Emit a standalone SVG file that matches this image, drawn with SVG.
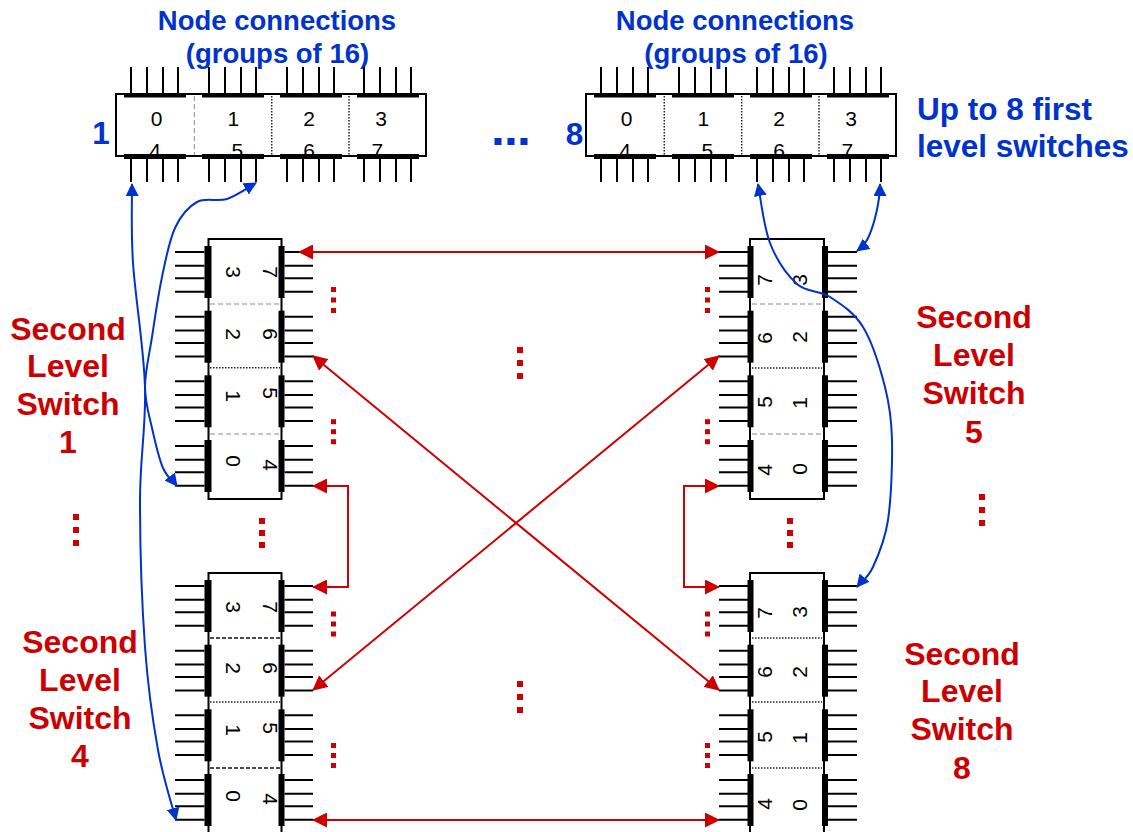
<svg xmlns="http://www.w3.org/2000/svg" xmlns:xlink="http://www.w3.org/1999/xlink" width="1133" height="832" viewBox="0 0 1133 832">
<style>
text{font-family:"Liberation Sans",Arial,Helvetica,sans-serif}
.bt{font-weight:bold;fill:#0033CC;font-size:27.5px;text-anchor:middle}
.bs{font-weight:bold;fill:#0033CC;font-size:31.5px}
.rt{font-weight:bold;fill:#CC0000;font-size:32px;text-anchor:middle}
.dg{font-size:21px;fill:#000;text-anchor:middle}
.frame{fill:#fff;stroke:#000;stroke-width:2}
.pin{stroke:#000;stroke-width:2;fill:none}
.bar{fill:#000}
.dvg{stroke:#888;stroke-width:1;stroke-dasharray:5 3;fill:none}
.dvd{stroke:#222;stroke-width:1.5;stroke-dasharray:1.5 1.5;fill:none}
.dvk{stroke:#111;stroke-width:1.5;stroke-dasharray:4 2;fill:none}
.rl{stroke:#CC0000;stroke-width:2;fill:none;marker-start:url(#ar);marker-end:url(#ar)}
.bl{stroke:#0033CC;stroke-width:2;fill:none;marker-start:url(#ab);marker-end:url(#ab)}
.rd{fill:#CC0000}
.bd{fill:#0033CC}
</style>
<defs>
<marker id="ar" viewBox="0 0 15 15" refX="14" refY="7.5" markerWidth="15" markerHeight="15" markerUnits="userSpaceOnUse" orient="auto-start-reverse"><path d="M0,0L15,7.5L0,15z" fill="#CC0000"/></marker>
<marker id="ab" viewBox="0 0 13 13" refX="12" refY="6.5" markerWidth="13" markerHeight="13" markerUnits="userSpaceOnUse" orient="auto-start-reverse"><path d="M0,0L13,6.5L0,13z" fill="#0033CC"/></marker>
<g id="hsw-frame">
<rect class="frame" x="0" y="0" width="310" height="62"/>
<path class="pin" d="M15,-27V0M31,-27V0M47,-27V0M62,-27V0M93,-27V0M109,-27V0M125,-27V0M140,-27V0M171,-27V0M187,-27V0M203,-27V0M218,-27V0M248,-27V0M264,-27V0M280,-27V0M295,-27V0M15,62V88M31,62V88M47,62V88M62,62V88M93,62V88M109,62V88M125,62V88M140,62V88M171,62V88M187,62V88M203,62V88M218,62V88M248,62V88M264,62V88M280,62V88M295,62V88"/>
</g>
<g id="hsw-bars">
<rect class="bar" x="8" y="-1" width="62" height="4.5"/><rect class="bar" x="86" y="-1" width="62" height="4.5"/><rect class="bar" x="164" y="-1" width="62" height="4.5"/><rect class="bar" x="241" y="-1" width="62" height="4.5"/>
<rect class="bar" x="8" y="60" width="62" height="5"/><rect class="bar" x="86" y="60" width="62" height="5"/><rect class="bar" x="164" y="60" width="62" height="5"/><rect class="bar" x="241" y="60" width="62" height="5"/>
</g>
<g id="vsL-frame">
<rect class="frame" x="0" y="0" width="73" height="260"/>
<path class="pin" d="M-33.5,13H-4M76,13H104.5M-33.5,26.7H-4M76,26.7H104.5M-33.5,39.3H-4M76,39.3H104.5M-33.5,52.7H-4M76,52.7H104.5M-33.5,77.7H-4M76,77.7H104.5M-33.5,91.4H-4M76,91.4H104.5M-33.5,104H-4M76,104H104.5M-33.5,117.4H-4M76,117.4H104.5M-33.5,142.3H-4M76,142.3H104.5M-33.5,156H-4M76,156H104.5M-33.5,168.6H-4M76,168.6H104.5M-33.5,182H-4M76,182H104.5M-33.5,207H-4M76,207H104.5M-33.5,220.7H-4M76,220.7H104.5M-33.5,233.3H-4M76,233.3H104.5M-33.5,246.7H-4M76,246.7H104.5"/>
</g>
<g id="vsL-bars">
<rect class="bar" x="-4" y="7" width="7" height="52"/><rect class="bar" x="-4" y="71.7" width="7" height="52"/><rect class="bar" x="-4" y="136.3" width="7" height="52"/><rect class="bar" x="-4" y="201" width="7" height="52"/>
<rect class="bar" x="70" y="7" width="6" height="52"/><rect class="bar" x="70" y="71.7" width="6" height="52"/><rect class="bar" x="70" y="136.3" width="6" height="52"/><rect class="bar" x="70" y="201" width="6" height="52"/>
</g>
<g id="vsR-frame">
<rect class="frame" x="0" y="0" width="74" height="260"/>
<path class="pin" d="M-31,13H-2M78,13H107M-31,26.7H-2M78,26.7H107M-31,39.3H-2M78,39.3H107M-31,52.7H-2M78,52.7H107M-31,77.7H-2M78,77.7H107M-31,91.4H-2M78,91.4H107M-31,104H-2M78,104H107M-31,117.4H-2M78,117.4H107M-31,142.3H-2M78,142.3H107M-31,156H-2M78,156H107M-31,168.6H-2M78,168.6H107M-31,182H-2M78,182H107M-31,207H-2M78,207H107M-31,220.7H-2M78,220.7H107M-31,233.3H-2M78,233.3H107M-31,246.7H-2M78,246.7H107"/>
</g>
<g id="vsR-bars">
<rect class="bar" x="-2.5" y="7" width="6" height="52"/><rect class="bar" x="-2.5" y="71.7" width="6" height="52"/><rect class="bar" x="-2.5" y="136.3" width="6" height="52"/><rect class="bar" x="-2.5" y="201" width="6" height="52"/>
<rect class="bar" x="72" y="7" width="6" height="52"/><rect class="bar" x="72" y="71.7" width="6" height="52"/><rect class="bar" x="72" y="136.3" width="6" height="52"/><rect class="bar" x="72" y="201" width="6" height="52"/>
</g>
</defs>
<rect x="0" y="0" width="1133" height="832" fill="#fff"/>

<g id="labels">
<text class="bt" x="277" y="30">Node connections</text>
<text class="bt" x="277.5" y="63">(groups of 16)</text>
<text class="bt" x="735" y="30">Node connections</text>
<text class="bt" x="736" y="63">(groups of 16)</text>
<text class="bs" x="917" y="120">Up to 8 first</text>
<text class="bs" x="917" y="157">level switches</text>
<rect class="bd" x="494.5" y="138" width="7" height="7"/><rect class="bd" x="507.5" y="138" width="7" height="7"/><rect class="bd" x="520.5" y="138" width="7" height="7"/>
<text class="rt" x="68" y="340">Second</text><text class="rt" x="68" y="377">Level</text><text class="rt" x="68" y="415">Switch</text><text class="rt" x="68" y="453">1</text>
<text class="rt" x="80" y="653">Second</text><text class="rt" x="80" y="691">Level</text><text class="rt" x="80" y="729">Switch</text><text class="rt" x="80" y="767">4</text>
<text class="rt" x="974" y="328">Second</text><text class="rt" x="974" y="366">Level</text><text class="rt" x="974" y="404">Switch</text><text class="rt" x="974" y="443">5</text>
<text class="rt" x="962" y="665">Second</text><text class="rt" x="962" y="702">Level</text><text class="rt" x="962" y="740">Switch</text><text class="rt" x="962" y="779">8</text>
</g>

<g id="ellipses">
<rect class="rd" x="331" y="287" width="5" height="5"/><rect class="rd" x="331" y="297.5" width="5" height="5"/><rect class="rd" x="331" y="308" width="5" height="5"/>
<rect class="rd" x="331" y="419.2" width="5" height="5"/><rect class="rd" x="331" y="429.2" width="5" height="5"/><rect class="rd" x="331" y="439.2" width="5" height="5"/>
<rect class="rd" x="331" y="611.5" width="5" height="5"/><rect class="rd" x="331" y="621.5" width="5" height="5"/><rect class="rd" x="331" y="631.5" width="5" height="5"/>
<rect class="rd" x="331" y="743" width="5" height="5"/><rect class="rd" x="331" y="753" width="5" height="5"/><rect class="rd" x="331" y="763" width="5" height="5"/>
<rect class="rd" x="705" y="287" width="5" height="5"/><rect class="rd" x="705" y="297.5" width="5" height="5"/><rect class="rd" x="705" y="308" width="5" height="5"/>
<rect class="rd" x="705" y="419.2" width="5" height="5"/><rect class="rd" x="705" y="429.2" width="5" height="5"/><rect class="rd" x="705" y="439.2" width="5" height="5"/>
<rect class="rd" x="705" y="611.5" width="5" height="5"/><rect class="rd" x="705" y="621.5" width="5" height="5"/><rect class="rd" x="705" y="631.5" width="5" height="5"/>
<rect class="rd" x="705" y="743" width="5" height="5"/><rect class="rd" x="705" y="753" width="5" height="5"/><rect class="rd" x="705" y="763" width="5" height="5"/>
<rect class="rd" x="517" y="347" width="6" height="6"/><rect class="rd" x="517" y="360" width="6" height="6"/><rect class="rd" x="517" y="373" width="6" height="6"/>
<rect class="rd" x="517" y="681" width="6" height="6"/><rect class="rd" x="517" y="694" width="6" height="6"/><rect class="rd" x="517" y="707" width="6" height="6"/>
<rect class="rd" x="259" y="518" width="6" height="6"/><rect class="rd" x="259" y="530" width="6" height="6"/><rect class="rd" x="259" y="542" width="6" height="6"/>
<rect class="rd" x="787" y="518" width="6" height="6"/><rect class="rd" x="787" y="530" width="6" height="6"/><rect class="rd" x="787" y="542" width="6" height="6"/>
<rect class="rd" x="73" y="514" width="6" height="6"/><rect class="rd" x="73" y="527" width="6" height="6"/><rect class="rd" x="73" y="540" width="6" height="6"/>
<rect class="rd" x="979" y="494" width="6" height="6"/><rect class="rd" x="979" y="507" width="6" height="6"/><rect class="rd" x="979" y="520" width="6" height="6"/>
</g>

<g id="fls1">
<use xlink:href="#hsw-frame" x="116" y="94"/>
<path class="dvg" d="M194.3,96V155"/><path class="dvd" d="M271.7,96V155"/><path class="dvd" d="M349,96V155"/>
<text class="dg" x="156.7" y="125.5">0</text><text class="dg" x="233.3" y="125.5">1</text><text class="dg" x="309" y="125.5">2</text><text class="dg" x="381" y="125.5">3</text>
<text class="dg" x="155" y="158">4</text><text class="dg" x="237.3" y="158">5</text><text class="dg" x="309" y="158">6</text><text class="dg" x="377.3" y="158">7</text>
<use xlink:href="#hsw-bars" x="116" y="94"/>
<text class="bs" x="101" y="143.5" text-anchor="middle" font-size="28">1</text>
</g>

<g id="fls8">
<use xlink:href="#hsw-frame" x="586" y="94"/>
<path class="dvd" d="M664.3,96V155"/><path class="dvd" d="M741.7,96V155"/><path class="dvd" d="M819,96V155"/>
<text class="dg" x="626.7" y="125.5">0</text><text class="dg" x="703.3" y="125.5">1</text><text class="dg" x="779" y="125.5">2</text><text class="dg" x="851" y="125.5">3</text>
<text class="dg" x="625" y="158">4</text><text class="dg" x="707.3" y="158">5</text><text class="dg" x="779" y="158">6</text><text class="dg" x="847.3" y="158">7</text>
<use xlink:href="#hsw-bars" x="586" y="94"/>
<text class="bs" x="574.5" y="145" text-anchor="middle" font-size="28">8</text>
</g>

<g id="sls1">
<use xlink:href="#vsL-frame" x="208.5" y="239"/>
<path class="dvg" d="M210,304H280"/><path class="dvd" d="M210,367.7H280"/><path class="dvg" d="M210,434H280"/>
<text class="dg" transform="translate(225.5,272) rotate(90)">3</text><text class="dg" transform="translate(225.5,334) rotate(90)">2</text><text class="dg" transform="translate(225.5,396) rotate(90)">1</text><text class="dg" transform="translate(225.5,461) rotate(90)">0</text>
<text class="dg" transform="translate(262.5,272) rotate(90)">7</text><text class="dg" transform="translate(262.5,334) rotate(90)">6</text><text class="dg" transform="translate(262.5,393) rotate(90)">5</text><text class="dg" transform="translate(262.5,465) rotate(90)">4</text>
<use xlink:href="#vsL-bars" x="208.5" y="239"/>
</g>

<g id="sls4">
<use xlink:href="#vsL-frame" x="208.5" y="573"/>
<path class="dvk" d="M210,638H280"/><path class="dvd" d="M210,702H280"/><path class="dvk" d="M210,768H280"/>
<text class="dg" transform="translate(225.5,607) rotate(90)">3</text><text class="dg" transform="translate(225.5,668) rotate(90)">2</text><text class="dg" transform="translate(225.5,730) rotate(90)">1</text><text class="dg" transform="translate(225.5,796) rotate(90)">0</text>
<text class="dg" transform="translate(262.5,607) rotate(90)">7</text><text class="dg" transform="translate(262.5,668) rotate(90)">6</text><text class="dg" transform="translate(262.5,728) rotate(90)">5</text><text class="dg" transform="translate(262.5,799) rotate(90)">4</text>
<use xlink:href="#vsL-bars" x="208.5" y="573"/>
</g>

<g id="sls5">
<use xlink:href="#vsR-frame" x="750" y="239"/>
<path class="dvg" d="M752,304H822"/><path class="dvd" d="M752,368H822"/><path class="dvg" d="M752,434H822"/>
<text class="dg" transform="translate(771.5,280) rotate(-90)">7</text><text class="dg" transform="translate(771.5,338) rotate(-90)">6</text><text class="dg" transform="translate(771.5,402) rotate(-90)">5</text><text class="dg" transform="translate(771.5,470) rotate(-90)">4</text>
<text class="dg" transform="translate(806.5,280) rotate(-90)">3</text><text class="dg" transform="translate(806.5,337) rotate(-90)">2</text><text class="dg" transform="translate(806.5,403) rotate(-90)">1</text><text class="dg" transform="translate(806.5,469) rotate(-90)">0</text>
<use xlink:href="#vsR-bars" x="750" y="239"/>
</g>

<g id="sls8">
<use xlink:href="#vsR-frame" x="750" y="573"/>
<path class="dvd" d="M752,638H822"/><path class="dvd" d="M752,702H822"/><path class="dvd" d="M752,768H822"/>
<text class="dg" transform="translate(771.5,613) rotate(-90)">7</text><text class="dg" transform="translate(771.5,672) rotate(-90)">6</text><text class="dg" transform="translate(771.5,737) rotate(-90)">5</text><text class="dg" transform="translate(771.5,804) rotate(-90)">4</text>
<text class="dg" transform="translate(806.5,612) rotate(-90)">3</text><text class="dg" transform="translate(806.5,672) rotate(-90)">2</text><text class="dg" transform="translate(806.5,738) rotate(-90)">1</text><text class="dg" transform="translate(806.5,805) rotate(-90)">0</text>
<use xlink:href="#vsR-bars" x="750" y="573"/>
</g>

<g id="connectors">
<path class="rl" d="M299,252H719"/>
<path class="rl" d="M313,356L719,690"/>
<path class="rl" d="M719,356L313,690"/>
<path class="rl" d="M313,486H348V587H313"/>
<path class="rl" d="M719,486H684V587H719"/>
<path class="rl" d="M313,820H719"/>
<path class="bl" d="M132,184C132.2,197.2 130.8,229.2 133,263C135.2,296.8 143.8,347.5 145,387C146.2,426.5 140,456.7 140,500C140,543.3 142,605.3 145,647C148,688.7 152.8,721.2 158,750C163.2,778.8 173,808.3 176,820"/>
<path class="bl" d="M256,183C251.2,185.7 236.8,195.8 227,199C217.2,202.2 205.7,197.2 197,202C188.3,206.8 180.8,215.5 175,228C169.2,240.5 165.8,258.8 162,277C158.2,295.2 154.8,318.7 152,337C149.2,355.3 145,371.8 145,387C145,402.2 149,414.5 152,428C155,441.5 158.8,458.3 163,468C167.2,477.7 174.7,483 177,486"/>
<path class="bl" d="M758,184C760,193.8 763.5,226.3 770,243C776.5,259.7 787,275 797,284C807,293 819,289.8 830,297C841,304.2 853.8,312 863,327C872.2,342 880.2,368.2 885,387C889.8,405.8 891.5,417.8 892,440C892.5,462.2 891.2,498.8 888,520C884.8,541.2 878.2,555.8 873,567C867.8,578.2 859.7,583.7 857,587"/>
<path class="bl" d="M880,184C880,200 875,222 869,236C866,243 861,248 857,251"/>
</g>
</svg>
